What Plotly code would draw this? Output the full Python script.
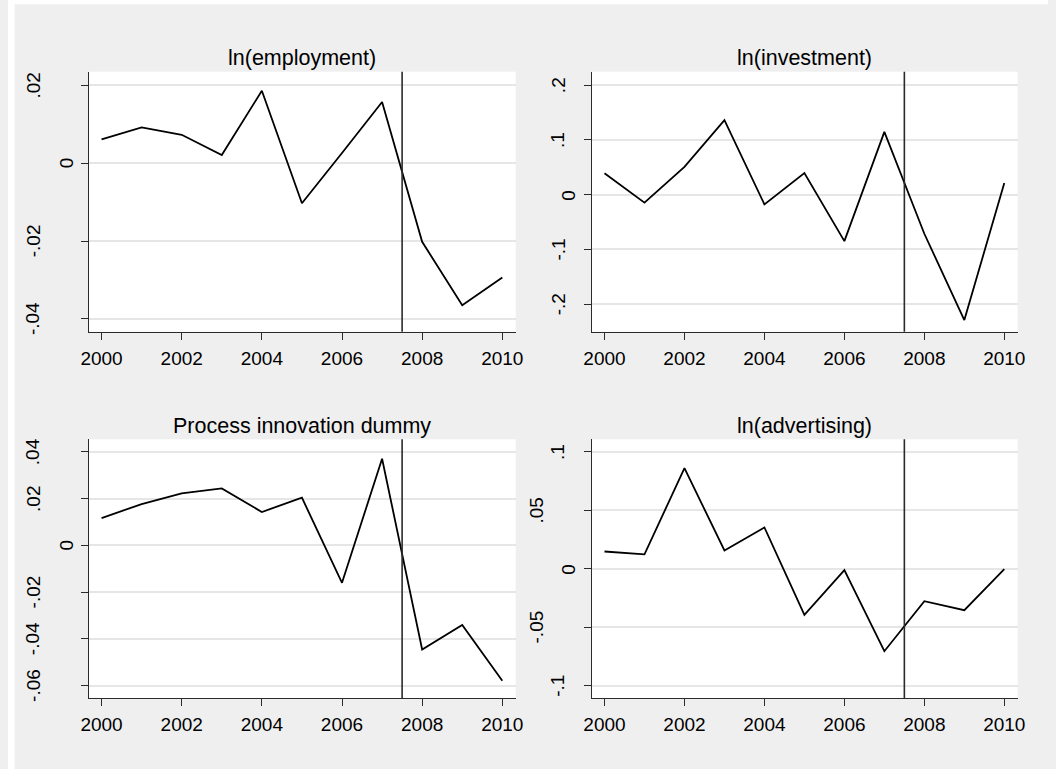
import plotly.graph_objects as go

# Years and series
years = [2000, 2001, 2002, 2003, 2004, 2005, 2006, 2007, 2008, 2009, 2010]

employment = [0.0061, 0.0092, 0.0073, 0.0021, 0.0186, -0.0103, 0.0026, 0.0157, -0.0202, -0.0365, -0.0294]
investment = [0.039, -0.0146, 0.0506, 0.136, -0.0177, 0.0396, -0.0848, 0.1146, -0.0713, -0.2287, 0.0213]
process_innov = [0.0117, 0.0177, 0.0223, 0.0244, 0.0143, 0.0204, -0.016, 0.0371, -0.0445, -0.034, -0.0579]
advertising = [0.0148, 0.0123, 0.0862, 0.0157, 0.0354, -0.0394, -0.0011, -0.0705, -0.0277, -0.0354, -0.0003]

titles = ["ln(employment)", "ln(investment)", "Process innovation dummy", "ln(advertising)"]

# Tick values and labels per panel
emp_ticks = [-0.04, -0.02, 0, 0.02]
emp_labels = ["-.04", "-.02", "0", ".02"]
inv_ticks = [-0.2, -0.1, 0, 0.1, 0.2]
inv_labels = ["-.2", "-.1", "0", ".1", ".2"]
proc_ticks = [-0.06, -0.04, -0.02, 0, 0.02, 0.04]
proc_labels = ["-.06", "-.04", "-.02", "0", ".02", ".04"]
adv_ticks = [-0.1, -0.05, 0, 0.05, 0.1]
adv_labels = ["-.1", "-.05", "0", ".05", ".1"]

x_ticks = [2000, 2002, 2004, 2006, 2008, 2010]
break_year = 2007.5

W, H = 1056, 769
TICK_SIZE = 19
TITLE_SIZE = 21.5


def px_x(a, b):
    return [a / W, b / W]


def px_y(top, bottom):
    return [1 - bottom / H, 1 - top / H]


# Arial advance widths (em) for the glyphs used in tick labels
GLYPH_EM = {".": 0.278, "-": 0.333}


def label_width(s):
    # width of the label body, leading minus not counted
    body = s.lstrip("-")
    return sum(GLYPH_EM.get(c, 0.556) for c in body) * TICK_SIZE


def label_offset(s):
    # distance from the axis line to the centre of a rotated y label
    return 2.1 * label_width(s) + 1.0


LEFT_COL = (82.1, 515.5)
RIGHT_COL = (592.8, 1025.2)
TOP_ROW = (71.7, 331.7)
BOTTOM_ROW = (439.3, 698.3)

panels = [
    dict(series=employment, ticks=emp_ticks, labels=emp_labels, yr=[-0.0433, 0.0235],
         col=LEFT_COL, row=TOP_ROW),
    dict(series=investment, ticks=inv_ticks, labels=inv_labels, yr=[-0.25, 0.2244],
         col=RIGHT_COL, row=TOP_ROW),
    dict(series=process_innov, ticks=proc_ticks, labels=proc_labels, yr=[-0.0654, 0.0454],
         col=LEFT_COL, row=BOTTOM_ROW),
    dict(series=advertising, ticks=adv_ticks, labels=adv_labels, yr=[-0.1108, 0.1108],
         col=RIGHT_COL, row=BOTTOM_ROW),
]

FONT = "Arial, Liberation Sans, sans-serif"
AXIS_COLOR = "#2b2b2b"
GRID_COLOR = "#e6e6e6"

fig = go.Figure()
layout = dict(
    width=W, height=H,
    margin=dict(l=0, r=0, t=0, b=0),
    paper_bgcolor="#efefef",
    plot_bgcolor="white",
    showlegend=False,
    font=dict(family=FONT, color="black", size=TICK_SIZE),
)

shapes = [
    # thin white border at the left and top edges
    dict(type="rect", xref="paper", yref="paper", x0=0, x1=6.7 / W, y0=0, y1=1,
         fillcolor="white", line=dict(width=0), layer="below"),
    dict(type="rect", xref="paper", yref="paper", x0=0, x1=1, y0=1 - 4.3 / H, y1=1,
         fillcolor="white", line=dict(width=0), layer="below"),
]
annotations = []

for i, p in enumerate(panels):
    n = "" if i == 0 else str(i + 1)
    xa, ya = "x" + n, "y" + n
    left, right = p["col"]
    top, bottom = p["row"]
    fig.add_trace(go.Scatter(
        x=years, y=p["series"], mode="lines", xaxis=xa, yaxis=ya,
        line=dict(color="black", width=1.8),
    ))
    layout["xaxis" + n] = dict(
        domain=px_x(left, right), anchor=ya, range=[1999.683, 2010.334],
        tickvals=x_ticks, ticktext=[str(v) for v in x_ticks],
        ticks="outside", ticklen=7, tickwidth=1.3, tickcolor=AXIS_COLOR,
        showline=True, linecolor=AXIS_COLOR, linewidth=1.3,
        showgrid=False, zeroline=False,
        tickfont=dict(size=TICK_SIZE), ticklabelstandoff=2,
    )
    layout["yaxis" + n] = dict(
        domain=px_y(top, bottom), anchor=xa, range=p["yr"],
        tickvals=p["ticks"], showticklabels=False,
        ticks="outside", ticklen=7, tickwidth=1.3, tickcolor=AXIS_COLOR,
        showline=True, linecolor=AXIS_COLOR, linewidth=1.3,
        showgrid=True, gridcolor=GRID_COLOR, gridwidth=1.5, zeroline=False,
    )
    # rotated y tick labels, staggered by label length
    for v, lab in zip(p["ticks"], p["labels"]):
        annotations.append(dict(
            text=lab, xref="paper", yref=ya,
            x=(left - label_offset(lab)) / W, y=v,
            xanchor="center", yanchor="middle", textangle=-90, showarrow=False,
            font=dict(size=TICK_SIZE, family=FONT, color="black"),
        ))
    shapes.append(dict(
        type="line", xref=xa, yref=ya + " domain", x0=break_year, x1=break_year,
        y0=0, y1=1, line=dict(color=AXIS_COLOR, width=1.6),
    ))
    annotations.append(dict(
        text=titles[i], xref="paper", yref="paper",
        x=(left + right) / 2 / W, y=1 - (top - 13.5) / H,
        xanchor="center", yanchor="middle", showarrow=False,
        font=dict(size=TITLE_SIZE, family=FONT, color="black"),
    ))

layout["shapes"] = shapes
layout["annotations"] = annotations
fig.update_layout(**layout)
fig.write_html("out.html")
